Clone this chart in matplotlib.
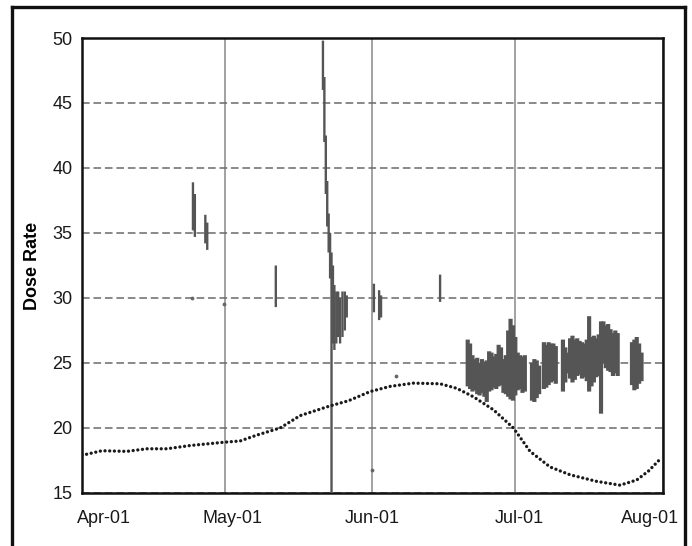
import numpy as np
import pandas as pd
import matplotlib
matplotlib.use("Agg")
import matplotlib.pyplot as plt
import matplotlib.dates as mdates
import matplotlib.transforms as mtrans
from matplotlib.lines import Line2D

plt.rcParams['font.family'] = ['Liberation Sans', 'DejaVu Sans']

start = pd.Timestamp('2001-04-01')

# background dose rate (dotted curve), days after Apr 1
bg_day = [0, 4.2, 9.4, 13.6, 17.8, 22.7, 29.7, 33.2, 36.7, 41.6, 45.8, 52.1, 56.0, 60.5,
          64.7, 69.6, 75.2, 78.7, 82.2, 86.4, 90.6, 94.1, 98.3, 102.5, 108.0, 113.0,
          116.5, 119.0, 121.4]
bg_val = [17.9, 18.25, 18.2, 18.4, 18.4, 18.65, 18.9, 19.0, 19.45, 20.0, 20.95, 21.7, 22.1, 22.8,
          23.2, 23.45, 23.4, 23.05, 22.4, 21.4, 20.0, 18.2, 17.0, 16.4, 15.9, 15.6,
          16.0, 16.7, 17.6]

# measured dose rate, shown as min/max range per half day
meas_day = [23.3, 23.7, 25.9, 26.3, 40.7,
            50.6, 50.9, 51.2, 51.5, 51.8, 52.1, 52.4, 52.7, 53.0, 53.4, 53.8, 54.2, 54.7, 55.2, 55.6,
            61.3, 62.4, 62.8, 75.2,
            81.0, 81.5, 82.0, 82.5, 83.0, 83.5, 84.0, 84.5, 85.0, 85.5, 86.0, 86.5, 87.0, 87.5,
            88.0, 88.5, 89.0, 89.5, 90.0, 90.5, 91.0, 91.5, 92.0, 92.5, 93.0,
            94.5, 95.0, 95.5, 96.0,
            97.0, 97.5, 98.0, 98.5, 99.0, 99.5,
            101.0, 101.5, 102.0, 102.5, 103.0, 103.5, 104.0, 104.5, 105.0, 105.5, 106.0, 106.5,
            107.0, 107.5, 108.0, 108.5, 109.0, 109.5, 110.0, 110.5, 111.0, 111.5, 112.0, 112.5,
            115.5, 116.0, 116.5, 117.0, 117.5]
meas_lo = [35.2, 34.7, 34.2, 33.7, 29.3,
           46.0, 42.0, 38.0, 35.5, 33.5, 31.5, 15.0, 26.5, 26.0, 26.5, 27.0, 26.5, 27.0, 27.5, 28.5,
           28.9, 28.3, 28.5, 29.7,
           23.2, 23.0, 22.8, 22.9, 22.6, 22.5, 22.7, 22.4, 22.0, 22.8, 22.9, 23.1, 23.0, 23.2,
           23.3, 22.7, 22.6, 22.4, 22.2, 22.1, 22.5, 22.9, 23.0, 22.7, 22.8,
           22.1, 22.0, 22.3, 22.6,
           23.0, 23.1, 23.3, 23.5, 23.6, 23.4,
           22.8, 23.5, 24.2, 23.8, 23.5, 23.7, 24.0, 24.1, 23.8, 23.9, 23.6, 22.8,
           23.2, 23.5, 23.9, 24.0, 21.1, 25.0, 24.6, 24.4, 24.3, 24.0, 24.2, 24.0,
           23.3, 22.9, 23.0, 23.4, 23.6]
meas_hi = [38.9, 38.0, 36.4, 35.8, 32.5,
           49.8, 47.0, 42.5, 39.0, 36.5, 35.0, 33.5, 32.5, 31.0, 30.5, 30.5, 30.0, 30.5, 30.5, 30.2,
           31.1, 30.6, 30.2, 31.8,
           26.8, 26.5, 25.6, 25.3, 25.4, 25.0, 25.3, 25.1, 25.2, 25.9, 25.8, 25.5, 25.7, 26.4,
           26.2, 25.3, 25.6, 27.5, 28.4, 27.9, 27.0, 25.8, 25.6, 25.5, 25.6,
           25.0, 25.3, 25.2, 24.8,
           26.6, 26.4, 26.6, 26.5, 26.5, 26.3,
           26.8, 26.2, 25.8, 26.9, 27.1, 26.8, 26.9, 26.7, 26.6, 26.5, 26.8, 28.6,
           27.0, 27.1, 26.9, 27.2, 28.2, 28.2, 27.9, 28.0, 27.6, 27.3, 27.5, 27.3,
           26.6, 26.8, 27.0, 26.5, 25.8]

# a few stray readings
stray_day = [23.0, 29.8, 61.0, 66.0]
stray_val = [30.0, 29.5, 16.8, 24.0]

bg_x = start + pd.to_timedelta(bg_day, unit='D')
meas_x = start + pd.to_timedelta(meas_day, unit='D')
stray_x = start + pd.to_timedelta(stray_day, unit='D')

fig = plt.figure(figsize=(6.92, 5.46), dpi=100)
ax = fig.add_axes([0.1185, 0.0971, 0.8395, 0.8333])

d = np.array(meas_day)
lo = np.array(meas_lo)
hi = np.array(meas_hi)
spikes = d < 80
band = ~spikes
ax.vlines(meas_x[spikes], lo[spikes], hi[spikes], colors='#555555', linewidth=1.7,
          snap=False, zorder=3)
ax.vlines(meas_x[band], lo[band], hi[band], colors='#555555', linewidth=3.0,
          snap=False, zorder=3)
ax.scatter(stray_x, stray_val, s=3, color='#666666', zorder=3)
ax.plot(bg_x, bg_val, color='#1a1a1a', linewidth=2.4,
        linestyle=(0, (0.01, 1.4)), dash_capstyle='round', zorder=4)

ax.set_ylim(15, 50)
ax.set_xlim(start, pd.Timestamp('2001-08-01'))
ax.set_yticks(np.arange(15, 51, 5))
months = pd.date_range('2001-04-01', '2001-08-01', freq='MS')
ax.set_xticks(months)
ax.xaxis.set_major_formatter(mdates.DateFormatter('%b-%d'))

ax.grid(axis='x', color='#9a9a9a', linewidth=1.3, linestyle='-')
ax.grid(axis='y', color='#6a6a6a', linewidth=1.1, linestyle=(0, (5, 2.5)))
ax.set_axisbelow(True)

for s in ax.spines.values():
    s.set_linewidth(1.8)
    s.set_color('#111111')

ax.tick_params(length=0, labelsize=13, colors='#1a1a1a')
ax.tick_params(axis='x', pad=12)
ax.tick_params(axis='y', pad=7)

# nudge the month labels like the original
shifts = [22, 8, 0, 4, -13]
for lab, dx in zip(ax.get_xticklabels(), shifts):
    lab.set_transform(lab.get_transform() + mtrans.ScaledTranslation(dx / 100, 0, fig.dpi_scale_trans))

ax.set_ylabel('Dose Rate', fontsize=13, fontweight='bold', labelpad=8)

# frame around the figure (left, top, right)
W, H = 692, 546
fig.add_artist(Line2D([12 / W, 12 / W], [0, 1 - 7 / H], color='#111111', linewidth=2.4))
fig.add_artist(Line2D([12 / W, 685 / W], [1 - 7 / H, 1 - 7 / H], color='#111111', linewidth=2.4))
fig.add_artist(Line2D([685 / W, 685 / W], [0, 1 - 7 / H], color='#111111', linewidth=2.4))

fig.savefig('out.png', dpi=100)
